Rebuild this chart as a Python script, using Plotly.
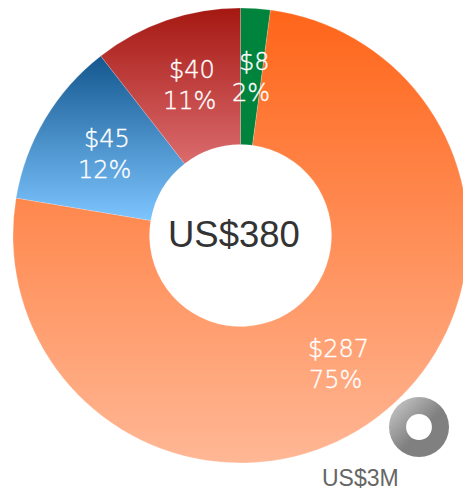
import json
import plotly.graph_objects as go

W, H = 470, 491
slice_names = ["Green", "Orange", "Blue", "Red"]
slice_values = [8, 287, 45, 40]
slice_top = ["#00843D", "#FF6519", "#14578F", "#A51812"]
slice_bottom = ["#00843D", "#FFB795", "#7DC5FF", "#DB6B6D"]
amount_labels = ["$8", "$287", "$45", "$40"]
share_labels = ["2%", "75%", "12%", "11%"]
amount_x = [254, 338, 107, 192]
share_x = [251, 335, 104, 189]
amount_y = [62, 349, 139, 70]
share_y = [93, 380, 170, 101]
total_label = "US$380"
small_label = "US$3M"
small_value = [3]
small_colors = ["#D0D0D0", "#808080"]

fig = go.Figure()
fig.add_trace(go.Pie(
    labels=slice_names, values=slice_values, sort=False, direction="clockwise", rotation=0,
    hole=0.4, textinfo="none", hoverinfo="skip",
    marker=dict(colors=slice_top, line=dict(color="rgba(255,255,255,0.35)", width=0.5)),
    domain=dict(x=[13 / W, 468 / W], y=[1 - 463 / H, 1 - 8 / H]), showlegend=False,
))
fig.add_trace(go.Pie(
    labels=["Other"], values=small_value, hole=0.43, textinfo="none", hoverinfo="skip",
    marker=dict(colors=[small_colors[1]], line=dict(width=0)),
    domain=dict(x=[389 / W, 449 / W], y=[1 - 457 / H, 1 - 397 / H]), showlegend=False,
))

def note(text, x, y, size, color, family):
    fig.add_annotation(text=text, x=x / W, y=1 - y / H, xref="paper", yref="paper",
                       showarrow=False, xanchor="center", yanchor="middle",
                       font=dict(size=size, color=color, family=family))

LABEL_FONT = "'DejaVu Sans Light', 'DejaVu Sans ExtraLight', 'DejaVu Sans'"
for a, s, ax, sx, y1, y2 in zip(amount_labels, share_labels, amount_x, share_x, amount_y, share_y):
    note(a, ax, y1, 24, "white", LABEL_FONT)
    note(s, sx, y2, 24, "white", LABEL_FONT)
note(total_label, 234, 234, 36.5, "#333333", "Liberation Sans")
note(small_label, 360, 478, 23, "#666666", "Liberation Sans")

fig.update_layout(width=W, height=H, margin=dict(l=0, r=0, t=0, b=0),
                  paper_bgcolor="white", plot_bgcolor="white")

post = """
document.documentElement.style.overflow='hidden';
document.body.style.margin='0';
document.body.style.overflow='hidden';
var gd=document.getElementById('{plot_id}');
var tops=%s, bots=%s, grey=%s;
var svg=gd.querySelector('svg.main-svg');
var NS='http://www.w3.org/2000/svg';
var defs=document.createElementNS(NS,'defs');
function grad(id,x2,y2,stops){
  var g=document.createElementNS(NS,'linearGradient');
  g.setAttribute('id',id);g.setAttribute('x1','0');g.setAttribute('y1','0');
  g.setAttribute('x2',x2);g.setAttribute('y2',y2);
  stops.forEach(function(s){var e=document.createElementNS(NS,'stop');
    e.setAttribute('offset',s[0]);e.setAttribute('stop-color',s[1]);g.appendChild(e);});
  defs.appendChild(g);
}
tops.forEach(function(t,i){grad('sg'+i,'0','1',[[0,t],[1,bots[i]]]);});
grad('sgrey','1','1',[[0,grey[0]],[0.55,grey[1]],[1,grey[1]]]);
svg.insertBefore(defs,svg.firstChild);
var paths=gd.querySelectorAll('.slice path.surface');
paths.forEach(function(p,i){
  p.style.setProperty('fill', i<tops.length ? 'url(#sg'+i+')' : 'url(#sgrey)');
});
gd.querySelectorAll('.annotation-text').forEach(function(t){
  if(t.style.fill.indexOf('255, 255, 255')>=0){
    t.style.setProperty('stroke','white');
    t.style.setProperty('stroke-width','0.4px');
  }
});
""" % (json.dumps(slice_top), json.dumps(slice_bottom), json.dumps(small_colors))

fig.write_html("out.html", post_script=post, config=dict(displayModeBar=False, staticPlot=True))
